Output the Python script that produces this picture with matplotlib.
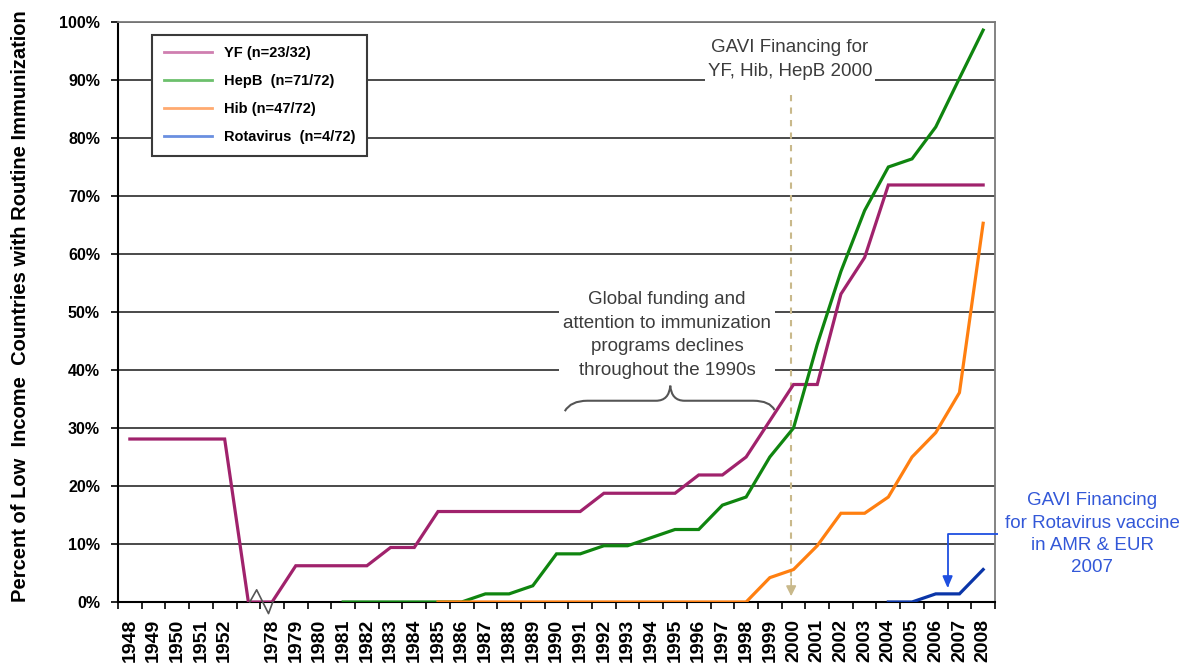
import numpy as np
import matplotlib
matplotlib.use('Agg')
import matplotlib.pyplot as plt
from matplotlib import font_manager
from matplotlib.path import Path
from matplotlib.patches import PathPatch
from matplotlib.lines import Line2D

# category labels, blank slot marks the axis break between 1952 and 1978
years = ['1948', '1949', '1950', '1951', '1952', ''] + [str(y) for y in range(1978, 2009)]

# percent of low income countries with routine immunization
yf = [28.1, 28.1, 28.1, 28.1, 28.1, 0.0,
      0.0, 6.25, 6.25, 6.25, 6.25, 9.4, 9.4, 15.6, 15.6, 15.6, 15.6, 15.6,
      15.6, 15.6, 18.75, 18.75, 18.75, 18.75, 21.9, 21.9, 25.0, 31.25, 37.5,
      37.5, 53.1, 59.4, 71.9, 71.9, 71.9, 71.9, 71.9]
hepb = [None] * 9 + [
      0.0, 0.0, 0.0, 0.0, 0.0, 0.0, 1.4, 1.4, 2.8, 8.3, 8.3, 9.7, 9.7, 11.1,
      12.5, 12.5, 16.7, 18.1, 25.0, 30.0, 44.4, 57.0, 67.5, 75.0, 76.4, 81.9,
      90.3, 98.6]
hib = [None] * 13 + [
      0.0, 0.0, 0.0, 0.0, 0.0, 0.0, 0.0, 0.0, 0.0, 0.0, 0.0, 0.0, 0.0, 0.0,
      4.2, 5.6, 9.7, 15.3, 15.3, 18.1, 25.0, 29.2, 36.1, 65.3]
rota = [None] * 32 + [0.0, 0.0, 1.4, 1.4, 5.6]

series = [
    ('YF (n=23/32)', yf, '#a0226c', '#cf7fb0'),
    ('HepB  (n=71/72)', hepb, '#0f850f', '#6cc06c'),
    ('Hib (n=47/72)', hib, '#ff7f10', '#ffaa70'),
    ('Rotavirus  (n=4/72)', rota, '#0a35a8', '#6a8fe0'),
]

installed = {f.name for f in font_manager.fontManager.ttflist}
narrow = 'Liberation Sans Narrow' if 'Liberation Sans Narrow' in installed else 'Liberation Sans'
plt.rcParams['font.family'] = ['Liberation Sans', 'DejaVu Sans']

fig = plt.figure(figsize=(11.87, 6.70), dpi=100)
ax = fig.add_axes([118 / 1187, 68 / 670, 877 / 1187, 580 / 670])

x = np.arange(len(years))
for name, vals, color, _ in series:
    v = np.array([np.nan if a is None else a for a in vals], dtype=float)
    ax.plot(x, v, color=color, lw=2.3, zorder=4, solid_joinstyle='miter')

ax.set_xlim(-0.5, len(years) - 0.5)
ax.set_ylim(0, 100)

# y axis
ax.set_yticks(np.arange(0, 101, 10))
ax.set_yticklabels(['%d%%' % v for v in range(0, 101, 10)],
                   fontweight='bold', fontsize=11.5)
ax.tick_params(axis='y', direction='out', length=5, width=1.2, pad=8)
ax.grid(axis='y', color='#4a4a4a', lw=1.4, zorder=1)
ax.set_axisbelow(True)

# x axis: labels at category centres, tick marks between categories
ax.set_xticks(x)
ax.set_xticklabels(years, rotation=90, fontweight='bold', fontsize=14,
                   family=narrow)
ax.tick_params(axis='x', which='major', length=0, pad=12)
ax.set_xticks(np.arange(-0.5, len(years), 1), minor=True)
ax.tick_params(axis='x', which='minor', direction='out', length=5, width=1.2)

for side in ['left', 'bottom']:
    ax.spines[side].set_color('black')
    ax.spines[side].set_linewidth(1.5)
for side in ['top', 'right']:
    ax.spines[side].set_color('#7a7a7a')
    ax.spines[side].set_linewidth(1.3)

ax.set_ylabel('Percent of Low  Income  Countries with Routine Immunization',
              fontweight='bold', fontsize=14.5, family=narrow)
ax.yaxis.set_label_coords(-0.1, 0.51)

# axis break mark
ax.plot([5.06, 5.35, 5.85, 6.03], [0, 2.1, -2.0, 0], color='#555555',
        lw=1.2, clip_on=False, zorder=5)

# legend
handles = [Line2D([], [], color=lc, lw=2) for _, _, _, lc in series]
leg = ax.legend(handles, [s[0] for s in series], loc='upper left',
                bbox_to_anchor=(0.039, 0.978), borderaxespad=0,
                prop={'weight': 'bold', 'size': 10.5, 'family': narrow},
                handlelength=3.3, labelspacing=0.95, borderpad=0.8,
                fancybox=False, framealpha=1)
leg.get_frame().set_edgecolor('#3a3a3a')
leg.get_frame().set_linewidth(1.5)
leg.set_zorder(6)

# GAVI 2000 annotation with dashed arrow
ax.text(27.85, 93.5, 'GAVI Financing for\nYF, Hib, HepB 2000', ha='center',
        va='center', fontsize=13.5, color='#3c3c3c', linespacing=1.55,
        bbox=dict(fc='white', ec='none', pad=2), zorder=3)
ax.plot([27.9, 27.9], [87.5, 3.5], color='#c9b98b', lw=1.5,
        ls=(0, (3, 3)), zorder=3)
ax.annotate('', xy=(27.9, 1.0), xytext=(27.9, 4.0),
            arrowprops=dict(arrowstyle='-|>,head_length=0.6,head_width=0.3',
                            color='#c9b98b', lw=1.2, shrinkA=0, shrinkB=0),
            zorder=3)

# 1990s annotation and brace
ax.text(22.66, 46.0, 'Global funding and\nattention to immunization\n'
        'programs declines\nthroughout the 1990s', ha='center', va='center',
        fontsize=13.5, color='#3c3c3c', linespacing=1.5,
        bbox=dict(fc='white', ec='none', pad=3), zorder=3)
brace = Path([(18.35, 32.9), (18.6, 34.7), (19.3, 34.7), (22.2, 34.7),
              (22.75, 34.7), (22.8, 37.3), (22.85, 34.7), (23.4, 34.7),
              (26.3, 34.7), (27.0, 34.7), (27.2, 33.1)],
             [Path.MOVETO, Path.CURVE3, Path.CURVE3, Path.LINETO,
              Path.CURVE3, Path.CURVE3, Path.CURVE3, Path.CURVE3,
              Path.LINETO, Path.CURVE3, Path.CURVE3])
ax.add_patch(PathPatch(brace, fc='none', ec='#555555', lw=1.5, zorder=3.5))

# rotavirus annotation
ax.text(40.6, 11.7, 'GAVI Financing\nfor Rotavirus vaccine\nin AMR & EUR\n2007',
        ha='center', va='center', fontsize=13.5, color='#3358d8',
        linespacing=1.4, clip_on=False, zorder=7,
        bbox=dict(fc='white', ec='none', pad=5))
ax.annotate('', xy=(34.5, 2.4), xytext=(36.75, 11.8),
            arrowprops=dict(arrowstyle='-|>,head_length=0.7,head_width=0.3',
                            connectionstyle='angle,angleA=0,angleB=90,rad=0',
                            color='#1f4fe0', lw=1.3, shrinkA=0, shrinkB=0),
            annotation_clip=False, zorder=6)

fig.savefig('out.png', dpi=100)
